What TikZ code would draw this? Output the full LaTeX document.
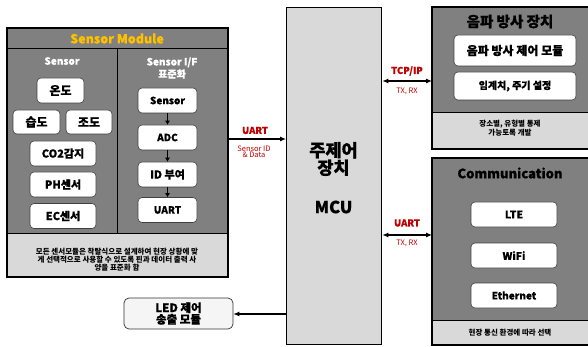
\documentclass[tikz,border=0pt]{standalone}
\usepackage{fontspec}
\setmainfont{Noto Sans CJK KR}[BoldFeatures={FakeBold=0.6}]
\newfontfamily\notefont{Noto Sans CJK KR}
\usetikzlibrary{arrows.meta}
\definecolor{dgray}{HTML}{808080}
\definecolor{lgray}{HTML}{D9D9D9}
\definecolor{ored}{HTML}{C00000}
\definecolor{gold}{HTML}{FFC000}
\newcommand{\fs}[1]{\fontsize{#1}{#1}\selectfont}
\tikzset{
  sbox/.style={draw=black!75, fill=white, rounded corners=4pt, line width=0.6pt,
    inner sep=0pt, font=\bfseries\fs{10}},
  kbox/.style={sbox, font=\bfseries\fs{12}},
  panel/.style={fill=dgray, draw=none, inner sep=0pt, outer sep=0pt, anchor=north west},
  border/.style={line width=1.3pt, draw=black},
  arr/.style={-{Latex[length=6pt,width=5pt]}, line width=1.1pt},
  darr/.style={{Latex[length=6pt,width=5pt]}-{Latex[length=6pt,width=5pt]}, line width=1.1pt},
  lbl/.style={text=ored, font=\bfseries\fs{9.5}, inner sep=0pt},
  slbl/.style={text=ored, font=\notefont\fs{7.5}, inner sep=0pt, align=center},
  note/.style={font=\notefont\bfseries\fs{7.5}, align=center, inner sep=0pt},
}
\begin{document}
\begin{tikzpicture}[x=1pt,y=-1pt]
\clip (0,0) rectangle (588,347);
\fill[white] (0,0) rectangle (588,347);

% ---------- Sensor module ----------
\node[panel, minimum width=221pt, minimum height=249pt] (sm) at (7,28) {};
\fill[lgray] (7,233) rectangle (228,277);
\draw[line width=1pt] (7,49) -- (228,49);
\draw[line width=1pt] (7,233) -- (228,233);
\draw[line width=1pt] (117,49) -- (117,233);
\draw[border] (sm.north west) rectangle (sm.south east);
\node[text=gold, font=\bfseries\fs{12.5}, inner sep=0pt] (smt) at (117,38.5) {Sensor Module};
\node[text=white, font=\bfseries\fs{10}, inner sep=0pt] (sct) at (62,61) {Sensor};
\node[text=white, font=\bfseries\fs{10}, inner sep=0pt, align=center] (ift) at (172,68) {Sensor I/F\\[1pt]표준화};

\node[kbox, minimum width=47pt, minimum height=25pt] (on) at (60.5,90.5) {온도};
\node[kbox, minimum width=47pt, minimum height=24pt] (sd) at (36.5,122) {습도};
\node[kbox, minimum width=46pt, minimum height=24pt] (jd) at (89,122) {조도};
\node[sbox, minimum width=66pt, minimum height=25pt, font=\bfseries\fs{11}] (co) at (63,153.5) {CO2감지};
\node[sbox, minimum width=66pt, minimum height=25pt, font=\bfseries\fs{11}] (ph) at (63,184.5) {PH센서};
\node[sbox, minimum width=66pt, minimum height=25pt, font=\bfseries\fs{11}] (ec) at (63,216) {EC센서};

\node[sbox, minimum width=59pt, minimum height=25pt] (ss) at (167.5,100.5) {Sensor};
\node[sbox, minimum width=59pt, minimum height=25pt] (adc) at (167.5,137.5) {ADC};
\node[sbox, minimum width=59pt, minimum height=25pt, font=\bfseries\fs{11}] (id) at (167.5,174.5) {ID 부여};
\node[sbox, minimum width=59pt, minimum height=25pt] (ua) at (167.5,210) {UART};
\draw[-{Latex[length=4pt,width=5pt]}, line width=1pt] (ss) -- (adc);
\draw[-{Latex[length=4pt,width=5pt]}, line width=1pt] (adc) -- (id);
\draw[-{Latex[length=4pt,width=5pt]}, line width=1pt] (id) -- (ua);

\node[note] (smn) at (117,260) {모든 센서모듈은 착탈식으로 설계하여 현장 상황에 맞\\[0.5pt]게 선택적으로 사용할 수 있도록 핀과 데이터 출력 사\\[0.5pt]양을 표준화 함};

% ---------- MCU ----------
\node[fill=lgray, draw=black, line width=1.3pt, inner sep=0pt, anchor=north west,
      minimum width=95pt, minimum height=337pt] (mcu) at (286,7) {};
\node[font=\bfseries\fs{17.5}, align=center, inner sep=0pt] (mcut) at (333.5,159) {주제어\\[0pt]장치};
\node[font=\bfseries\fs{16.5}, inner sep=0pt] (mcum) at (333.5,207) {MCU};

% ---------- LED ----------
\node[draw=black!80, fill=black!4, rounded corners=5pt, line width=0.7pt, inner sep=0pt,
      minimum width=109pt, minimum height=31pt, align=center, font=\bfseries\fs{11.5}]
      (led) at (178.5,313.5) {LED 제어\\[0pt]송출 모듈};
\coordinate (ledy) at (0,314);
\draw[arr] (mcu.west |- ledy) -- (led.east |- ledy);

% ---------- UART from sensor ----------
\coordinate (uy) at (0,139);
\draw[arr] (sm.east |- uy) -- (mcu.west |- uy);
\node[lbl] (ul) at (255,130.5) {UART};
\node[slbl] (ulsub) at (254,152) {Sensor ID\\[-1pt]\& Data};

% ---------- 음파 방사 장치 ----------
\node[panel, minimum width=162pt, minimum height=142pt] (snd) at (432,7) {};
\fill[lgray] (432,113) rectangle (594,149);
\draw[line width=1pt] (432,113) -- (594,113);
\draw[border] (snd.north west) rectangle (snd.south east);
\node[font=\bfseries\fs{14.5}, inner sep=0pt] (sndt) at (510,21.5) {음파 방사 장치};
\node[sbox, minimum width=122pt, minimum height=31pt, font=\bfseries\fs{12}] (sm1) at (515,50.5) {음파 방사 제어 모듈};
\node[sbox, minimum width=122pt, minimum height=28pt, font=\bfseries\fs{10}] (sm2) at (515,86) {임계치, 주기 설정};
\node[note] (sndn) at (510,128) {장소별, 유형별 통제\\[0.5pt]가능토록 개발};

\coordinate (ty) at (0,81);
\draw[darr] (mcu.east |- ty) -- (snd.west |- ty);
\node[lbl] (tl) at (407,71) {TCP/IP};
\node[slbl] (tls) at (407,91) {TX, RX};

% ---------- Communication ----------
\node[panel, minimum width=162pt, minimum height=187pt] (com) at (432,158) {};
\fill[lgray] (432,320) rectangle (594,345);
\draw[line width=1pt] (432,320) -- (594,320);
\draw[border] (com.north west) rectangle (com.south east);
\node[font=\bfseries\fs{13}, inner sep=0pt] (comt) at (510,173) {Communication};
\node[sbox, minimum width=86pt, minimum height=25pt, font=\bfseries\fs{10.5}] (lte) at (514,214.5) {LTE};
\node[sbox, minimum width=86pt, minimum height=25pt, font=\bfseries\fs{10.5}] (wifi) at (514,255.5) {WiFi};
\node[sbox, minimum width=86pt, minimum height=25pt] (eth) at (514,295.5) {Ethernet};
\node[note] (comn) at (510,333) {현장 통신 환경에 따라 선택};

\coordinate (cy) at (0,235);
\draw[darr] (mcu.east |- cy) -- (com.west |- cy);
\node[lbl] (cl) at (407,223) {UART};
\node[slbl] (cls) at (407,243) {TX, RX};
\end{tikzpicture}
\end{document}
